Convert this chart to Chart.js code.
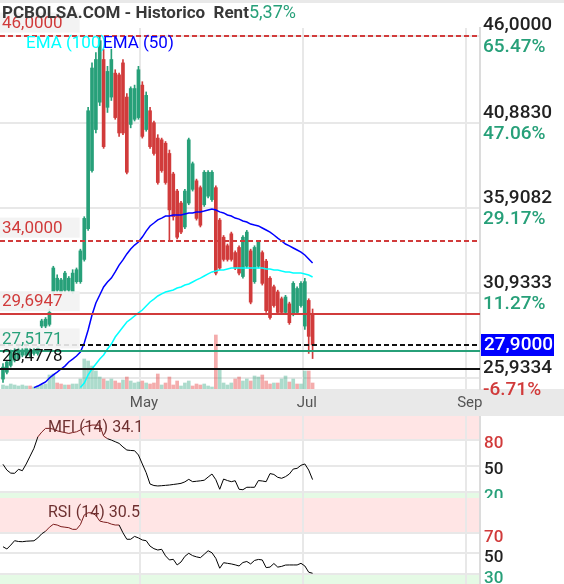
<!DOCTYPE html>
<html>
<head>
<meta charset="utf-8">
<script src="https://cdn.jsdelivr.net/npm/chart.js@4.4.1/dist/chart.umd.min.js"></script>
<style>
html, body { margin: 0; padding: 0; background: #fff; }
#wrap { position: relative; width: 564px; height: 584px; overflow: hidden; }
canvas { position: absolute; left: 0; }
</style>
</head>
<body>
<div id="wrap">
<canvas id="main" width="564" height="416" style="top:0"></canvas>
<canvas id="mfi" width="564" height="82" style="top:416px"></canvas>
<canvas id="rsi" width="564" height="86" style="top:498px"></canvas>
</div>
<script>
// PCBOLSA historic chart - candles, EMAs, volume, MFI and RSI

// ---- data (one entry per session) ----
const opens = [25.9,26.3,26.7,27.0,27.1,27.3,27.3,27.3,27.4,27.4, 29.0,29.0,29.1,31.0,31.1,31.0,31.1,31.1,31.0,31.6,
  31.6,32.9,34.7,38.1,40.5,42.1,44.6,41.8,42.4,43.8, 43.7,44.4,42.4,40.8,41.1,41.2,43.1,40.5,41.6,40.9,
  40.0,39.9,39.7,39.1,37.9,36.9,36.2,34.8,36.2,37.0, 37.5,37.1,36.1,36.6,36.4,37.1,35.2,34.2,33.7,34.4,
  33.3,33.6,31.9,32.5,33.4,31.6,32.5,33.3,32.8,31.8, 31.3,31.0,30.6,29.8,30.3,29.7,29.8,30.2,29.0,30.5, 29.7];
const closes = [26.6,26.9,27.5,27.5,27.6,27.6,27.7,27.6,27.6,27.7, 29.3,29.4,29.8,32.4,31.8,31.7,32.1,31.8,32.1,32.3,
  33.4,35.3,41.6,44.1,44.6,45.7,39.5,43.9,44.6,41.2, 40.3,40.3,38.0,42.9,42.9,44.0,40.1,42.5,39.5,39.1,
  37.4,38.1,37.4,35.8,35.4,34.2,34.5,36.9,39.9,38.5, 35.3,34.9,38.0,38.0,38.0,32.1,32.4,32.9,32.9,32.9,
  32.4,32.1,34.2,34.5,30.4,33.6,33.9,31.5,29.9,29.5, 30.2,29.8,29.8,30.7,29.2,31.5,31.2,31.5,31.6,28.4, 27.9];
const highs = [26.8,27.0,27.6,27.7,27.8,27.7,27.8,27.7,27.7,27.8, 29.4,29.5,30.0,32.5,32.0,31.8,32.2,31.9,32.3,32.4,
  33.5,35.4,41.8,44.4,45.0,46.0,45.2,44.2,45.2,44.0, 43.8,44.6,42.6,43.0,43.1,44.2,43.3,42.7,41.8,41.0,
  40.2,40.0,39.8,39.3,38.0,37.0,36.3,37.0,40.0,38.6, 37.6,37.2,38.1,38.1,38.1,37.2,35.3,34.3,33.8,34.5,
  33.4,33.7,34.3,34.6,33.5,33.7,34.0,33.4,32.9,31.9, 31.4,31.1,30.7,30.8,30.4,31.6,31.3,31.6,31.8,30.6, 30.0];
const lows = [25.7,26.2,26.6,26.9,27.0,27.2,27.2,27.2,27.3,27.3, 28.9,28.9,29.0,30.9,31.0,30.9,31.0,31.0,30.9,31.5,
  31.5,32.8,34.6,38.0,40.3,41.9,39.4,41.5,42.2,41.1, 40.1,40.2,37.9,40.6,41.0,41.1,40.0,40.4,39.4,39.0,
  37.3,38.0,37.3,34.0,35.2,34.1,34.4,34.7,36.1,36.9, 35.2,34.8,36.0,36.5,36.3,32.0,32.3,32.8,32.8,32.8,
  32.3,32.0,31.8,32.4,30.3,31.5,32.4,31.4,29.8,29.4, 30.1,29.7,29.7,29.7,29.1,29.6,29.7,30.1,28.8,27.4, 27.1];
const volumes = [40,30,50,40,30,40,30,30,20,30, 40,50,140,150,60,50,40,40,50,50,
  100,300,280,230,180,120,100,80,100,80, 60,90,120,80,60,70,80,60,50,60,
  150,40,60,120,40,80,30,60,80,30, 50,40,50,30,20,540,200,60,40,60,
  100,120,80,100,80,130,120,140,80,50, 60,60,100,130,70,100,50,50,180,180, 60];
const ema50 = [null,null,null,null,null,null,null,null,25.40,25.49,
  25.61,25.73,25.96,26.14,26.31,26.49,26.66,26.90,27.07,27.25, 27.48,28.01,28.77,29.65,30.35,30.82,31.29,31.58,31.81,32.17,
  32.57,32.87,33.22,33.51,33.74,33.92,34.21,34.56,34.86,35.03, 35.21,35.32,35.44,35.44,35.50,35.50,35.50,35.56,35.62,35.62,
  35.68,35.68,35.73,35.79,35.85,35.79,35.68,35.62,35.50,35.44, 35.32,35.26,35.15,35.09,34.97,34.91,34.86,34.74,34.62,34.50,
  34.33,34.15,33.98,33.80,33.69,33.57,33.45,33.33,33.16,32.93, 32.69];
const ema100 = [null,null,null,null,null,null,null,null,null,null, null,null,null,null,null,null,null,null,null,null,
  25.40,25.67,26.14,26.49,26.78,27.07,27.31,27.66,27.95,28.36, 28.65,28.95,29.24,29.41,29.59,29.77,29.94,30.17,30.41,30.58,
  30.76,30.88,30.99,31.05,31.11,31.23,31.29,31.40,31.46,31.58, 31.70,31.81,31.93,32.05,32.17,32.22,32.28,32.28,32.34,32.40,
  32.40,32.40,32.40,32.40,32.40,32.40,32.40,32.40,32.34,32.34, 32.28,32.28,32.22,32.17,32.17,32.11,32.11,32.11,32.05,31.99, 31.87];
const mfi = [51.6,45,41.5,41.3,45.9,44.3,52,61,70,83, 88.5,92.8,92.8,92,90,88.9,88,87,88,88.9,
  91,94.7,95.5,96.6,96.6,96.6,84,81,79.4,77.5, 75.6,71.5,68,67.5,67.2,62.3,52,42,29,27.3,
  26.8,27.1,27.5,27.9,28.5,29.1,29.8,31.5,34.4,31.7, 32.2,32.7,33.4,37,40.5,34,23,34.7,33,31.7,
  32.8,23,22.5,25.3,25.3,25.3,33,32.5,31.7,41, 40,36.7,35.6,37.5,40.5,46.2,47,50.5,52,45, 34.1];
const rsi = [56.4,54.2,58,62.3,61.5,61.3,61.8,62,62.2,65, 69,71.5,75.5,78.3,77.6,76,75.5,75,73.4,73.4,
  78,87.5,89.6,89.5,87,81.5,80.5,80,78.5,77.6, 77.6,70,63.7,63.7,66.5,65,63,62.3,57,54.5,
  53.2,53.9,47.5,43.5,44.1,38.6,41.5,47,50,47.7, 46.5,45.7,49,52.5,50.5,45,35.4,40.8,40.2,39.6,
  38.7,37.6,41,42,39.6,43,44,43.5,36,36.5, 40,36.5,37.2,38.5,38.6,38.6,38.6,40.2,37.6,31.5, 30.5];

// x axis: session index, month ticks fall between sessions
const monthNames = ['May', 'Jul', 'Sep'];
const monthPos = [35.4, 77.5, 119.6];
const xRange = [-0.775, 123.26];

// price axis
const priceRange = [25.318, 46.442];
const priceTicks = [25.9334, 30.9333, 35.9082, 40.883, 46.0];
const priceTickLabels = ['25,9334', '30,9333', '35,9082', '40,8830', '46,0000'];
const pctValues = [-6.71, 11.27, 29.17, 47.06, 65.47];

// horizontal levels drawn over the price panel
const levelValues = [46.0, 34.0, 29.6947, 27.5171, 26.4778];
const levelLabels = ['46,0000', '34,0000', '29,6947', '27,5171', '26,4778'];
const lastPrice = 27.9;
const lastPriceLabel = '27,9000';

const titleText = 'PCBOLSA.COM - Historico  Rent';
const titleRent = '5,37%';

// ---- styles ----
const RED = '#d13b3b';
const GREEN = '#27a079';
const INK = '#222';
const GRID = '#e8e8e8';
const FONT = 'Roboto, sans-serif';
const levelStyles = [
  { color: RED, dash: [5, 3], box: true },
  { color: RED, dash: [5, 3], box: true },
  { color: RED, dash: [], box: true },
  { color: GREEN, dash: [], box: true },
  { color: '#111', dash: [], box: false }
];

Chart.defaults.font.family = FONT;

const idx = opens.map((_, i) => i);
const isUp = idx.map(i => closes[i] >= opens[i]);
const volUp = idx.map(i => i === 0 || closes[i] >= closes[i - 1]);

function xScale(showLabels) {
  return {
    type: 'linear', min: xRange[0], max: xRange[1], offset: false,
    afterBuildTicks: s => { s.ticks = monthPos.map(v => ({ value: v })); },
    ticks: {
      display: showLabels, autoSkip: false, maxRotation: 0, padding: 5, labelOffset: 4,
      color: '#555', font: { size: 15 },
      callback: (v, i) => monthNames[i]
    },
    grid: { color: GRID, lineWidth: 2, drawTicks: false, offset: false },
    border: { display: false },
    afterFit: s => { s.height = showLabels ? 27 : 0; }
  };
}

function yScale(min, max, ticks) {
  return {
    position: 'right', min: min, max: max,
    afterBuildTicks: s => { s.ticks = ticks.map(v => ({ value: v })); },
    ticks: { display: false },
    grid: { color: GRID, lineWidth: 2, drawTicks: false },
    border: { display: true, color: '#dcdcdc', width: 2 },
    afterFit: s => { s.width = 84; }
  };
}

// ---- main panel overlay ----
const mainOverlay = {
  id: 'mainOverlay',
  beforeDraw(chart) {
    const { ctx, chartArea: a, width, height } = chart;
    ctx.save();
    ctx.fillStyle = '#e9e9e9';
    ctx.fillRect(0, a.bottom, width, height - a.bottom);
    ctx.fillRect(0, 0, width, 3);
    ctx.restore();
  },
  afterDatasetsDraw(chart) {
    const { ctx, chartArea: a } = chart;
    const y = chart.scales.y;
    ctx.save();
    ctx.lineWidth = 2;

    levelValues.forEach((v, i) => {
      const py = Math.round(y.getPixelForValue(v));
      ctx.strokeStyle = levelStyles[i].color;
      ctx.setLineDash(levelStyles[i].dash);
      ctx.beginPath(); ctx.moveTo(a.left, py); ctx.lineTo(a.right, py); ctx.stroke();
    });
    const lp = Math.round(y.getPixelForValue(lastPrice));
    ctx.strokeStyle = '#111';
    ctx.setLineDash([5, 3]);
    ctx.beginPath(); ctx.moveTo(a.left, lp); ctx.lineTo(a.right, lp); ctx.stroke();
    ctx.setLineDash([]);

    // level labels on the left
    ctx.font = '17px ' + FONT;
    ctx.textBaseline = 'middle';
    levelValues.forEach((v, i) => {
      const py = y.getPixelForValue(v);
      const w = ctx.measureText(levelLabels[i]).width;
      if (levelStyles[i].box) {
        ctx.fillStyle = 'rgba(242,242,242,0.9)';
        ctx.fillRect(0, py - 23, w + 19, 20);
      }
      ctx.fillStyle = levelStyles[i].color;
      ctx.fillText(levelLabels[i], 2, py - 12);
    });

    // EMA legend
    ctx.fillStyle = '#00ffff';
    ctx.fillText('EMA (100)', 26, 44);
    ctx.fillStyle = '#0000ff';
    ctx.fillText('EMA (50)', 103, 44);

    // right axis: price and change
    priceTicks.forEach((v, i) => {
      const py = y.getPixelForValue(v);
      ctx.font = '500 19px ' + FONT;
      ctx.fillStyle = INK;
      ctx.fillText(priceTickLabels[i], a.right + 3, py - 10);
      ctx.fillStyle = pctValues[i] < 0 ? RED : GREEN;
      ctx.fillText(pctValues[i].toFixed(2) + '%', a.right + 3, py + 11.5);
    });
    ctx.fillStyle = '#0000ff';
    ctx.fillRect(a.right + 1, lp - 11, 73, 22);
    ctx.fillStyle = '#fff';
    ctx.font = '500 19px ' + FONT;
    ctx.fillText(lastPriceLabel, a.right + 4, lp + 0.5);

    // title
    ctx.textBaseline = 'alphabetic';
    ctx.font = 'bold 17px ' + FONT;
    ctx.fillStyle = '#383838';
    ctx.fillText(titleText, 2, 18);
    const tw = ctx.measureText(titleText).width;
    ctx.font = '18px ' + FONT;
    ctx.fillStyle = GREEN;
    ctx.fillText(titleRent, 2 + tw, 18);
    ctx.restore();
  }
};

new Chart(document.getElementById('main'), {
  type: 'bar',
  data: {
    datasets: [
      {
        type: 'line', label: 'EMA (50)', order: 0,
        data: idx.map(i => ({ x: i, y: ema50[i] })),
        borderColor: '#0000ff', borderWidth: 1.5, pointRadius: 0, tension: 0
      },
      {
        type: 'line', label: 'EMA (100)', order: 1,
        data: idx.map(i => ({ x: i, y: ema100[i] })),
        borderColor: '#00ffff', borderWidth: 1.5, pointRadius: 0, tension: 0
      },
      {
        label: 'body', order: 2, grouped: false, barThickness: 3,
        data: idx.map(i => ({ x: i, y: [opens[i], closes[i]] })),
        backgroundColor: idx.map(i => isUp[i] ? GREEN : RED)
      },
      {
        label: 'wick', order: 3, grouped: false, barThickness: 1,
        data: idx.map(i => ({ x: i, y: [lows[i], highs[i]] })),
        backgroundColor: idx.map(i => isUp[i] ? GREEN : RED)
      },
      {
        label: 'volume', order: 4, grouped: false, barThickness: 3, yAxisID: 'yVol',
        data: idx.map(i => ({ x: i, y: volumes[i] })),
        backgroundColor: idx.map(i => volUp[i] ? 'rgba(38,160,121,0.38)' : 'rgba(230,70,70,0.45)')
      }
    ]
  },
  options: {
    responsive: false,
    animation: false,
    events: [],
    layout: { padding: { top: 28, left: 0, right: 0, bottom: 0 }, autoPadding: false },
    plugins: { legend: { display: false }, tooltip: { enabled: false } },
    scales: {
      x: xScale(true),
      y: yScale(priceRange[0], priceRange[1], priceTicks),
      yVol: { display: false, min: 0, max: 3610 }
    }
  },
  plugins: [mainOverlay]
});

// ---- oscillator panels ----
const OSC_LEVEL_COLORS = [RED, INK, GREEN];

function oscOverlay(name, values, levels) {
  return {
    id: 'osc' + name,
    beforeDraw(chart) {
      const { ctx, chartArea: a } = chart;
      const y = chart.scales.y;
      ctx.save();
      const ph = y.getPixelForValue(levels[0]);
      const pl = y.getPixelForValue(levels[2]);
      ctx.fillStyle = 'rgba(255,0,0,0.1)';
      ctx.fillRect(a.left, a.top, a.right - a.left, ph - a.top);
      ctx.fillStyle = 'rgba(0,210,0,0.1)';
      ctx.fillRect(a.left, pl, a.right - a.left, a.bottom - pl);
      ctx.restore();
    },
    afterDraw(chart) {
      const { ctx, chartArea: a } = chart;
      const y = chart.scales.y;
      ctx.save();
      ctx.textBaseline = 'middle';
      ctx.font = '500 17px ' + FONT;
      levels.forEach((v, i) => {
        ctx.fillStyle = OSC_LEVEL_COLORS[i];
        ctx.fillText(String(v), a.right + 4, y.getPixelForValue(v) + 4.5);
      });
      ctx.font = '16px ' + FONT;
      ctx.fillStyle = '#6e3030';
      ctx.fillText(name + ' (14) ' + values[values.length - 1].toFixed(1), 48, chart.height === 82 ? 12 : 15);
      ctx.restore();
    }
  };
}

function oscChart(id, name, values, range, levels) {
  return new Chart(document.getElementById(id), {
    type: 'line',
    data: {
      datasets: [{
        label: name,
        data: idx.map(i => ({ x: i, y: values[i] })),
        borderColor: '#000', borderWidth: 1, pointRadius: 0, tension: 0,
        segment: {
          borderColor: c => (c.p0.parsed.y > levels[0] && c.p1.parsed.y > levels[0]) ? '#7a1a1a' : '#000'
        }
      }]
    },
    options: {
      responsive: false,
      animation: false,
      events: [],
      layout: { padding: 0, autoPadding: false },
      plugins: { legend: { display: false }, tooltip: { enabled: false } },
      scales: {
        x: xScale(false),
        y: yScale(range[0], range[1], levels)
      }
    },
    plugins: [oscOverlay(name, values, levels)]
  });
}

oscChart('mfi', 'MFI', mfi, [13, 107], [80, 50, 20]);
oscChart('rsi', 'RSI', rsi, [20, 104], [70, 50, 30]);
</script>
</body>
</html>
